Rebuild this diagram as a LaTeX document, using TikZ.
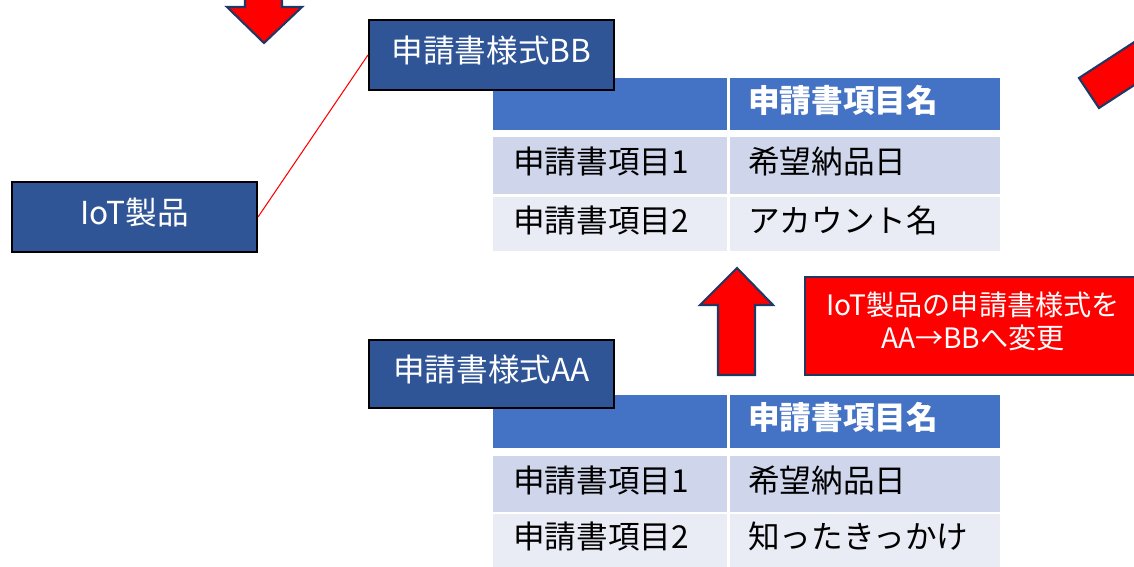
\documentclass[tikz,border=0pt]{standalone}
\usepackage{fontspec}
\setmainfont{Noto Sans CJK JP}
\newcommand\liftup[1]{\raisebox{2.3pt}[\height][\depth]{#1}}
\begin{document}
\begin{tikzpicture}[x=0.02cm,y=-0.02cm,
  navybox/.style={draw=black,line width=1.2pt,fill=boxblue,text=white,inner sep=0,
    minimum width=4.9cm,font=\fontsize{18pt}{21pt}\selectfont},
  hdrcell/.style={fill=hdrblue,text=white,font=\fontsize{18pt}{21pt}\selectfont\bfseries},
  rowa/.style={fill=rowone,text=black,font=\fontsize{18pt}{21pt}\selectfont},
  rowb/.style={fill=rowtwo,text=black,font=\fontsize{18pt}{21pt}\selectfont},
  leftcol/.style={anchor=north west,inner ysep=0,inner xsep=0.4cm,text width=3.88cm,align=left},
  rightcol/.style={anchor=north west,inner ysep=0,inner xsep=0.36cm,text width=4.68cm,align=left},
  redarrow/.style={fill=red,draw=arrownavy,line width=1.2pt,line join=miter},
  link/.style={draw=red,line width=0.6pt}
]
\definecolor{boxblue}{HTML}{2F5597}
\definecolor{hdrblue}{HTML}{4472C4}
\definecolor{rowone}{HTML}{CFD5EA}
\definecolor{rowtwo}{HTML}{E9EBF5}
\definecolor{arrownavy}{HTML}{1F3864}
\useasboundingbox (0,0) rectangle (1134,567);
\clip (0,0) rectangle (1134,567);

% arrows
\draw[redarrow] (245,-10) -- (245,7) -- (227,7) -- (264,43) -- (302,7) -- (282,7) -- (282,-10) -- cycle;
\draw[redarrow] (1079,78) -- (1179,13) -- (1199,43) -- (1099,108) -- cycle;
\draw[redarrow] (718,375) -- (718,305) -- (700,305) -- (737,268) -- (773,305) -- (755,305) -- (755,375) -- cycle;

% table BB
\node[hdrcell,leftcol,minimum height=1.04cm] (bbh1) at (493,78) {};
\node[hdrcell,rightcol,minimum height=1.04cm] (bbh2) at (730,78) {\liftup{申請書項目名}};
\node[rowa,leftcol,minimum height=1.14cm] (bb11) at (493,137) {\liftup{申請書項目1}};
\node[rowa,rightcol,minimum height=1.14cm] (bb12) at (730,137) {\liftup{希望納品日}};
\node[rowb,leftcol,minimum height=1.08cm] (bb21) at (493,197) {\liftup{申請書項目2}};
\node[rowb,rightcol,minimum height=1.08cm] (bb22) at (730,197) {\liftup{アカウント名}};

% table AA
\node[hdrcell,leftcol,minimum height=1.06cm] (aah1) at (493,395) {};
\node[hdrcell,rightcol,minimum height=1.06cm] (aah2) at (730,395) {\liftup{申請書項目名}};
\node[rowa,leftcol,minimum height=1.12cm] (aa11) at (493,456) {\liftup{申請書項目1}};
\node[rowa,rightcol,minimum height=1.12cm] (aa12) at (730,456) {\liftup{希望納品日}};
\node[rowb,leftcol,minimum height=1.06cm] (aa21) at (493,514) {\liftup{申請書項目2}};
\node[rowb,rightcol,minimum height=1.06cm] (aa22) at (730,514) {\liftup{知ったきっかけ}};

% boxes
\node[navybox,minimum height=1.4cm] (iot) at (134.5,217) {\liftup{IoT製品}};
\node[navybox,minimum height=1.4cm] (bb) at (491.5,55) {\liftup{申請書様式BB}};
\node[navybox,minimum height=1.36cm] (aa) at (491.5,374) {\liftup{申請書様式AA}};
\draw[link] (iot.east) -- (bb.west);

% red note
\node[fill=red,draw=arrownavy,line width=1.2pt,text=white,inner sep=0,
  minimum width=6.72cm,minimum height=1.96cm,
  font=\fontsize{16pt}{18.7pt}\selectfont] (note) at (973,326)
  {\raisebox{2.5pt}[\height][\depth]{\parbox{6.5cm}{\centering IoT製品の申請書様式を\\AA→BBへ変更}}};
\end{tikzpicture}
\end{document}
